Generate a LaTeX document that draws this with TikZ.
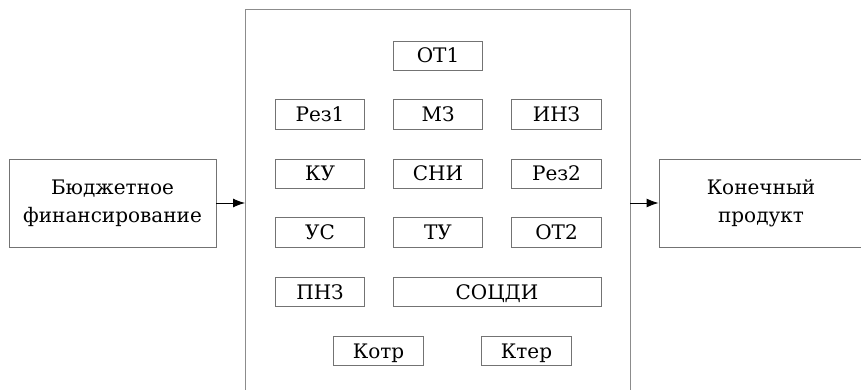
\documentclass[tikz,border=0pt]{standalone}
\usepackage{fontspec}
\setmainfont{DejaVu Serif}
\newfontfamily\diagfont{DejaVu Serif}
\usetikzlibrary{arrows.meta}
\begin{document}
\begin{tikzpicture}[x=1pt,y=-1pt,
  txt/.style={font=\diagfont\fontsize{20}{28}\selectfont},
  cell/.style={txt, draw=black!55, line width=0.9pt, minimum height=29.5pt, inner sep=0pt, text height=19pt, text depth=5pt},
  cellw/.style={cell, minimum width=89.5pt},
  bigbox/.style={txt, draw=black!55, line width=0.9pt, minimum height=88pt, inner sep=0pt, align=center},
  frameline/.style={draw=black!45, line width=1pt},
  flow/.style={draw=black, line width=0.9pt, -{Latex[length=12pt,width=9pt]}}]
\useasboundingbox (0,0) rectangle (861,390);
\clip (0,0) rectangle (861,390);
\fill[white] (0,0) rectangle (861,390);

% enclosing frame, open at the bottom
\coordinate (frameTL) at (245,10);
\coordinate (frameTR) at (630,10);
\path[frameline] (245,395) -- (frameTL) -- (frameTR) -- (630,395);

% input and output
\node[bigbox, minimum width=207pt] (fin) at (112.5,203) {Бюджетное\\финансирование};
\node[bigbox, minimum width=204pt] (prod) at (761,203) {Конечный\\продукт};

% inner components
\node[cellw] (ot1)  at (438,56)    {ОТ1};
\node[cellw] (rez1) at (320,114.5) {Рез1};
\node[cellw] (mz)   at (438,114.5) {МЗ};
\node[cellw] (inz)  at (556.5,114.5) {ИНЗ};
\node[cellw] (ku)   at (320,174)   {КУ};
\node[cellw] (sni)  at (438,174)   {СНИ};
\node[cellw] (rez2) at (556.5,174) {Рез2};
\node[cellw] (us)   at (320,232.5) {УС};
\node[cellw] (tu)   at (438,232.5) {ТУ};
\node[cellw] (ot2)  at (556.5,232.5) {ОТ2};
\node[cellw] (pnz)  at (320,292)   {ПНЗ};
\node[cell, minimum width=208pt] (socdi) at (497,292) {СОЦДИ};
\node[cellw] (kotr) at (378.5,351) {Котр};
\node[cellw] (kter) at (526.5,351) {Ктер};

% flows
\draw[flow] (fin.east) -- (fin.east -| frameTL);
\draw[flow] (prod.west -| frameTR) -- (prod.west);
\end{tikzpicture}
\end{document}
